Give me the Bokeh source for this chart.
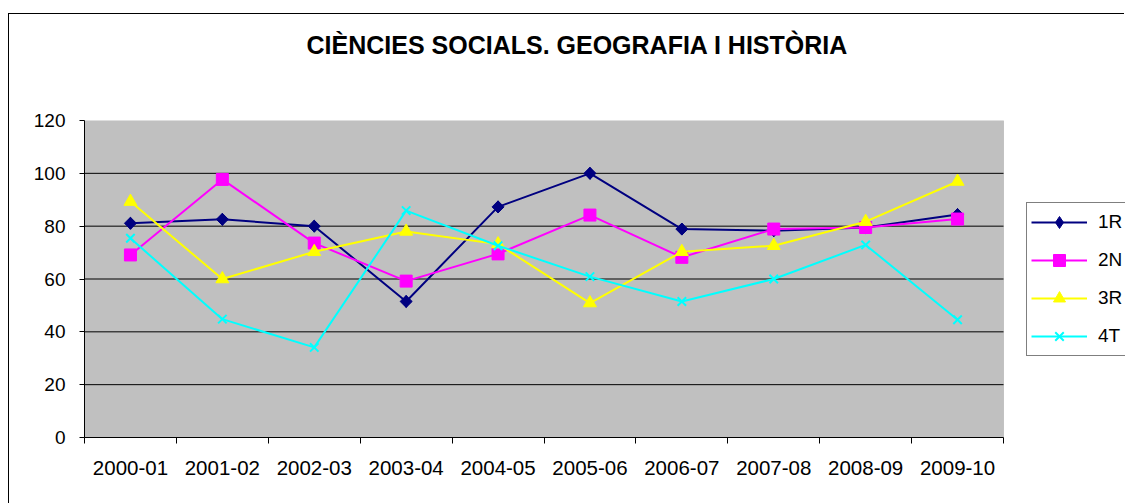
from bokeh.plotting import figure
from bokeh.models import Range1d, FixedTicker, Legend, LegendItem, Title, BoxAnnotation
from bokeh.embed import file_html
from bokeh.resources import INLINE
import math

# ---- data ----
categories = ["2000-01", "2001-02", "2002-03", "2003-04", "2004-05",
              "2005-06", "2006-07", "2007-08", "2008-09", "2009-10"]
r1 = [81.1, 82.6, 80.0, 51.5, 87.3, 100.0, 78.9, 78.3, 79.5, 84.4]
n2 = [69.1, 97.7, 73.6, 59.2, 69.5, 84.2, 68.2, 78.9, 79.5, 82.7]
r3 = [89.3, 60.0, 70.3, 78.0, 73.2, 50.9, 70.3, 72.6, 81.7, 96.9]
t4 = [75.4, 44.8, 34.1, 85.9, 72.6, 60.9, 51.5, 60.0, 72.9, 44.6]
series_names = ["1R", "2N", "3R", "4T"]
y_ticks = [0, 20, 40, 60, 80, 100, 120]
grid_values = [20, 40, 60, 80, 100]
title_text = "CIÈNCIES SOCIALS. GEOGRAFIA I HISTÒRIA"

FONT = "Liberation Sans"

n = len(categories)
xs = [i + 0.5 for i in range(n)]

W, H = 1116, 490
LEFT, TOP, BOTTOM = 75, 106, 67
PLOT_W = 919                      # width of the grey plot area
frame_w = W - LEFT                # frame runs to the canvas edge (room for legend)
x_end = n * frame_w / PLOT_W

p = figure(width=W, height=H, output_backend="svg", toolbar_location=None,
           x_range=Range1d(0, x_end), y_range=Range1d(0, 120),
           min_border_left=LEFT, min_border_right=0, min_border_top=TOP,
           min_border_bottom=BOTTOM)
p.styles = {"margin-left": "8px", "margin-top": "13px",
            "border-left": "1px solid black", "border-top": "1px solid black"}
p.background_fill_color = "white"
p.border_fill_color = "white"
p.outline_line_color = None

# grey plot area
p.add_layout(BoxAnnotation(left=0, right=n, bottom=0, top=120,
                           fill_color="#C0C0C0", fill_alpha=1,
                           line_color="#808080", line_width=1, level="underlay"))

# title (left aligned + offset so that it is centred on the whole chart)
p.title.text = title_text
p.title.align = "left"
p.title.offset = 222
p.title.vertical_align = "top"
p.title.standoff = 0
p.title.text_font = FONT
p.title.text_font_style = "bold"
p.title.text_font_size = "25px"
p.title.text_color = "black"
p.add_layout(Title(text=" ", text_font_size="10px", standoff=47), "above")

# y axis
p.yaxis.ticker = FixedTicker(ticks=y_ticks)
p.yaxis.axis_line_color = "black"
p.yaxis.major_tick_line_color = "black"
p.yaxis.major_tick_out = 5
p.yaxis.major_tick_in = 0
p.yaxis.minor_tick_line_color = None
p.yaxis.major_label_standoff = 14
p.yaxis.major_label_text_font = FONT
p.yaxis.major_label_text_font_size = "19px"
p.yaxis.major_label_text_color = "black"

# x axis: labels at centres, ticks at boundaries (minor ticks)
p.xaxis.bounds = (0, n)
p.xaxis.ticker = FixedTicker(ticks=xs, minor_ticks=list(range(n + 1)))
p.xaxis.major_label_overrides = {x: c for x, c in zip(xs, categories)}
p.xaxis.axis_line_color = "black"
p.xaxis.major_tick_line_color = None
p.xaxis.major_tick_out = 0
p.xaxis.major_tick_in = 0
p.xaxis.minor_tick_line_color = "black"
p.xaxis.minor_tick_out = 6
p.xaxis.minor_tick_in = 0
p.xaxis.major_label_standoff = 17
p.xaxis.major_label_text_font = FONT
p.xaxis.major_label_text_font_size = "20.5px"
p.xaxis.major_label_text_color = "black"

# grid (only across the grey plot area)
p.xgrid.grid_line_color = None
p.ygrid.grid_line_color = None
p.segment(x0=[0] * len(grid_values), x1=[n] * len(grid_values),
          y0=grid_values, y1=grid_values, line_color="black", line_width=1)

# series
l1 = p.line(xs, r1, color="#000080", line_width=2)
# diamond used by the legend (legend draws markers unrotated); it is covered
# by the rotated square drawn on top of it
d1 = p.scatter(xs, r1, marker="diamond", size=12,
               fill_color="#000080", line_color="#000080")
m1 = p.scatter(xs, r1, marker="square", size=8.5, angle=math.pi / 4,
               fill_color="#000080", line_color="#000080")
l2 = p.line(xs, n2, color="#FF00FF", line_width=2)
m2 = p.scatter(xs, n2, marker="square", size=12,
               fill_color="#FF00FF", line_color="#FF00FF")
l3 = p.line(xs, r3, color="#FFFF00", line_width=2)
m3 = p.scatter(xs, r3, marker="triangle", size=13,
               fill_color="#FFFF00", line_color="#FFFF00")
l4 = p.line(xs, t4, color="#00FFFF", line_width=2)
m4 = p.scatter(xs, t4, marker="x", size=12, line_color="#00FFFF", line_width=2)

legend = Legend(items=[
    LegendItem(label=series_names[0], renderers=[l1, d1]),
    LegendItem(label=series_names[1], renderers=[l2, m2]),
    LegendItem(label=series_names[2], renderers=[l3, m3]),
    LegendItem(label=series_names[3], renderers=[l4, m4]),
], location=(942, 81))
legend.border_line_color = "black"
legend.border_line_width = 1
legend.background_fill_color = "white"
legend.background_fill_alpha = 1
legend.label_text_font = FONT
legend.label_text_font_size = "19px"
legend.label_text_color = "black"
legend.glyph_width = 56
legend.glyph_height = 30
legend.label_height = 30
legend.label_standoff = 11
legend.spacing = 8
legend.padding = 4
legend.margin = 0
p.add_layout(legend, "center")

open("out.html", "w").write(file_html(p, INLINE))
